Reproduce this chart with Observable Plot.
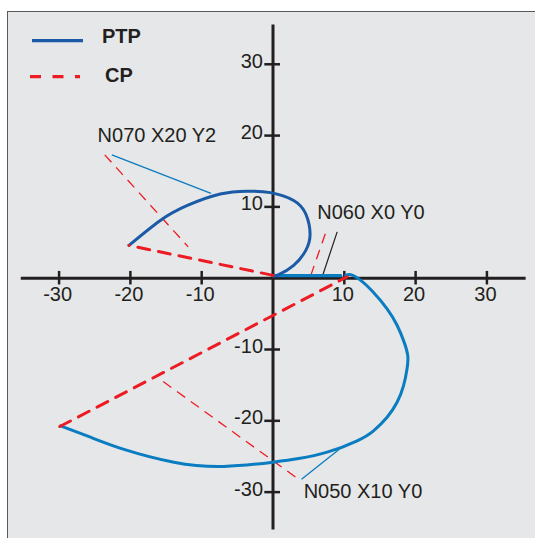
<!DOCTYPE html>
<html><head><meta charset="utf-8">
<script src="https://cdn.jsdelivr.net/npm/d3@7"></script>
<script src="https://cdn.jsdelivr.net/npm/@observablehq/plot@0.6"></script>
<style>
body{margin:0;background:#fff;}
#wrap{position:relative;width:535px;height:538px;overflow:hidden;font-family:"Liberation Sans",Arial,sans-serif;}
#bg{position:absolute;left:7px;top:11px;right:0;bottom:0;background:#e6e7e8;border-left:1.5px solid #58595b;border-top:1.5px solid #58595b;}
#chart{position:absolute;left:0;top:0;}
#legend{position:absolute;left:0;top:0;}
</style></head><body>
<div id="wrap"><div id="bg"></div><div id="chart"></div><div id="legend"></div></div>
<script>
// ---- data ----
const xTicks = [-30, -20, -10, 10, 20, 30];
const yTicks = [-30, -20, -10, 10, 20, 30];
const axisExtent = [-35.3, 35.5];

// PTP path, N070 arc (0,0) -> (-20, ~4.6)
const ptpArc = [
  [0, 0.3], [0.8, 0.5], [2.9, 1.8], [4.6, 3.9], [5.2, 6.2], [4.6, 9.0], [2.9, 10.9],
  [-0.35, 12.0], [-3.6, 12.2], [-7.4, 11.8], [-12.0, 10.2], [-15.8, 8.1], [-20.2, 4.6]
];
// PTP path, N050 loop (-30,-21) -> (10,0)
const ptpLoop = [
  [-29.8, -20.7], [-25.6, -22.3], [-20.9, -24.0], [-13.9, -25.8], [-6.9, -26.4],
  [0, -25.8], [3.6, -25.3], [7.6, -24.4], [11.8, -22.8], [14.1, -21.4],
  [16.0, -19.5], [17.4, -17.4], [18.3, -15.1], [18.8, -12.7], [18.9, -10.9], [18.4, -9.0],
  [17.4, -6.6], [16.0, -4.3], [14.1, -2.0], [12.3, -0.3], [10.9, 0.5], [10.2, 0.4]
];
// PTP path, N060 straight (10,0) -> (0,0)
const ptpLine = [[9.5, 0.35], [0, 0.35]];

// CP paths
const cpN050 = [[-29.9, -20.8], [10.4, 0.2]];
const cpN070 = [[0, 0.4], [-20.2, 4.6]];

// annotations: label + leader lines
const annotations = [
  {text: "N070 X20 Y2", x: -24.6, y: 19.1},
  {text: "N060 X0 Y0", x: 6.2, y: 8.3},
  {text: "N050 X10 Y0", x: 4.3, y: -30.8}
];
const leadersBlue = [
  {x1: -22.6, y1: 17.3, x2: -8.7, y2: 11.9},
  {x1: 4.0, y1: -28.2, x2: 9.3, y2: -24.0}
];
const leadersRed = [
  {x1: -23.6, y1: 17.3, x2: -11.9, y2: 4.4},
  {x1: 5.3, y1: 0.4, x2: 7.5, y2: 6.7},
  {x1: -15.4, y1: -14.5, x2: 3.6, y2: -28.2}
];
const leadersBlack = [
  {x1: 6.9, y1: 0.2, x2: 9.0, y2: 6.5}
];

const legendItems = [
  {label: "PTP", color: "#1b5aa6", dash: null},
  {label: "CP", color: "#ed1c24", dash: "11,11.5"}
];

// ---- colours ----
const ink = "#231f20", darkBlue = "#1b5aa6", lightBlue = "#0a7cc1", red = "#ed1c24";

const fx = d => d[0], fy = d => d[1];

const chart = Plot.plot({
  width: 535, height: 538,
  marginLeft: 0, marginRight: 0, marginTop: 0, marginBottom: 0,
  x: {domain: [-36, 36], range: [15.8, 529.2], axis: null},
  y: {domain: [-36, 36], range: [534.4, 21], axis: null},
  style: {background: "transparent", fontFamily: "'Liberation Sans', Arial, sans-serif", color: ink},
  marks: [
    // axes
    Plot.ruleY([0], {x1: axisExtent[0], x2: axisExtent[1], stroke: ink, strokeWidth: 3}),
    Plot.ruleX([0], {y1: axisExtent[0], y2: axisExtent[1], stroke: ink, strokeWidth: 3}),
    Plot.ruleX(xTicks, {x: d => d, y1: -0.95, y2: 0.95, stroke: ink, strokeWidth: 2.5}),
    Plot.ruleY(yTicks, {y: d => d, x1: -1.15, x2: 1.05, stroke: ink, strokeWidth: 2.5}),
    Plot.text(xTicks, {x: d => d, y: 0, text: d => String(d), dy: 16, dx: -1.5, fontSize: 20, fill: ink}),
    Plot.text(yTicks, {x: 0, y: d => d, text: d => String(d), dx: -10, dy: -3, textAnchor: "end", fontSize: 20, fill: ink}),
    // leader lines
    Plot.link(leadersRed, {x1: "x1", y1: "y1", x2: "x2", y2: "y2", stroke: red, strokeWidth: 1.3, strokeDasharray: "10,7"}),
    Plot.link(leadersBlue, {x1: "x1", y1: "y1", x2: "x2", y2: "y2", stroke: lightBlue, strokeWidth: 1.3}),
    Plot.link(leadersBlack, {x1: "x1", y1: "y1", x2: "x2", y2: "y2", stroke: ink, strokeWidth: 1.2}),
    // PTP
    Plot.line(ptpLoop, {x: fx, y: fy, curve: "natural", stroke: lightBlue, strokeWidth: 3}),
    Plot.line(ptpLine, {x: fx, y: fy, stroke: lightBlue, strokeWidth: 3.2}),
    Plot.line(ptpArc, {x: fx, y: fy, curve: "natural", stroke: darkBlue, strokeWidth: 3}),
    // CP
    Plot.line(cpN050, {x: fx, y: fy, stroke: red, strokeWidth: 3, strokeDasharray: "12,9"}),
    Plot.line(cpN070, {x: fx, y: fy, stroke: red, strokeWidth: 3, strokeDasharray: "12,9"}),
    // annotation labels
    Plot.text(annotations, {x: "x", y: "y", text: "text", textAnchor: "start", lineAnchor: "bottom", fontSize: 20, fill: ink})
  ]
});
document.getElementById("chart").appendChild(chart);

// legend (HTML/SVG overlay)
const lg = d3.select("#legend").append("svg").attr("width", 200).attr("height", 100);
const rows = [{ly: 40.7, x1: 32, x2: 83, tx: 102, ty: 43}, {ly: 76.7, x1: 30, x2: 80, tx: 105, ty: 82}];
legendItems.forEach((it, i) => {
  const r = rows[i];
  lg.append("line").attr("x1", r.x1).attr("x2", r.x2).attr("y1", r.ly).attr("y2", r.ly)
    .attr("stroke", it.color).attr("stroke-width", 3.2).attr("stroke-dasharray", it.dash);
  lg.append("text").attr("x", r.tx).attr("y", r.ty).text(it.label)
    .attr("font-family", "'Liberation Sans', Arial, sans-serif").attr("font-weight", "bold")
    .attr("font-size", 20).attr("fill", ink);
});
</script>
</body></html>
